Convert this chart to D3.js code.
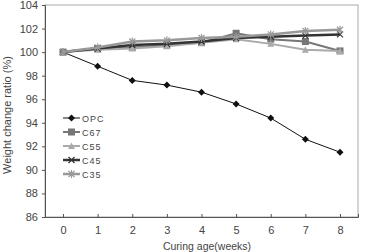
<!DOCTYPE html>
<html>
<head>
<meta charset="utf-8">
<script src="https://cdn.jsdelivr.net/npm/d3@7"></script>
<style>
  body { margin: 0; background: #fff; }
  text { font-family: "Liberation Sans", Arial, sans-serif; fill: #444; }
</style>
</head>
<body>
<svg id="chart" width="366" height="252"></svg>
<script>
  // DATA
  const weeks = [0, 1, 2, 3, 4, 5, 6, 7, 8];
  const opc = [100, 98.8, 97.6, 97.2, 96.6, 95.6, 94.4, 92.6, 91.5];
  const c67 = [100, 100.3, 100.4, 100.6, 100.8, 101.6, 101.1, 100.9, 100.1];
  const c55 = [100, 100.2, 100.3, 100.5, 100.8, 101.1, 100.7, 100.2, 100.1];
  const c45 = [100, 100.3, 100.6, 100.7, 100.9, 101.2, 101.3, 101.4, 101.5];
  const c35 = [100, 100.4, 100.9, 101.0, 101.2, 101.3, 101.5, 101.8, 101.9];
  const yTicks = [86, 88, 90, 92, 94, 96, 98, 100, 102, 104];

  const series = [
    { name: 'OPC', values: opc, color: '#111', width: 1, marker: 'diamond' },
    { name: 'C67', values: c67, color: '#777', width: 2, marker: 'square' },
    { name: 'C55', values: c55, color: '#aaa', width: 2, marker: 'triangle' },
    { name: 'C45', values: c45, color: '#333', width: 2.5, marker: 'cross' },
    { name: 'C35', values: c35, color: '#999', width: 2.5, marker: 'star' }
  ];

  (function() {
    const svg = d3.select('#chart');
    const left = 45, right = 358, plotTop = 5, bottom = 217;

    const xScale = d3.scaleLinear().domain([-0.52, 8.52]).range([left, right]);
    const yScale = d3.scaleLinear().domain([86, 104]).range([bottom, plotTop]);

    // FRAME
    svg.append('rect').attr('x', left).attr('y', plotTop)
      .attr('width', right - left).attr('height', bottom - plotTop)
      .attr('fill', 'none').attr('stroke', '#aaa').attr('stroke-width', 1);

    // AXES
    const yAxis = svg.append('g').attr('transform', `translate(${left},0)`)
      .call(d3.axisLeft(yScale).tickValues(yTicks).tickSize(3).tickPadding(4));
    const xAxis = svg.append('g').attr('transform', `translate(0,${bottom})`)
      .call(d3.axisBottom(xScale).tickValues(weeks).tickSize(-3).tickPadding(9));
    [xAxis, yAxis].forEach(a => {
      a.select('.domain').attr('stroke', '#555');
      a.selectAll('.tick line').attr('stroke', '#555');
      a.selectAll('text').attr('font-size', 11).attr('fill', '#555')
        .attr('font-family', '"DejaVu Sans", sans-serif').style('font-weight', 200);
    });

    // AXIS TITLES
    svg.append('text').attr('x', 207).attr('y', 250)
      .attr('text-anchor', 'middle').attr('font-size', 10.5).text('Curing age(weeks)');
    svg.append('text').attr('transform', 'translate(11,115) rotate(-90)')
      .attr('text-anchor', 'middle').attr('font-size', 11).text('Weight change ratio (%)');

    function drawMarker(g, type, x, y, color) {
      if (type === 'diamond') {
        g.append('path').attr('d', `M${x},${y - 3.5}L${x + 3.5},${y}L${x},${y + 3.5}L${x - 3.5},${y}Z`).attr('fill', color);
      } else if (type === 'square') {
        g.append('rect').attr('x', x - 3.5).attr('y', y - 3.5).attr('width', 7).attr('height', 7).attr('fill', color);
      } else if (type === 'triangle') {
        g.append('path').attr('d', `M${x},${y - 3.5}L${x + 3.5},${y + 3}L${x - 3.5},${y + 3}Z`).attr('fill', color);
      } else if (type === 'cross') {
        g.append('path').attr('d', `M${x - 3},${y - 3}L${x + 3},${y + 3}M${x - 3},${y + 3}L${x + 3},${y - 3}`)
          .attr('stroke', color).attr('stroke-width', 1.2);
      } else {
        g.append('path').attr('d', `M${x - 3},${y - 3}L${x + 3},${y + 3}M${x - 3},${y + 3}L${x + 3},${y - 3}M${x},${y - 4}L${x},${y + 4}`)
          .attr('stroke', color).attr('stroke-width', 1.2);
      }
    }

    // LINES
    const line = d3.line().x((d, i) => xScale(weeks[i])).y(d => yScale(d));
    series.forEach(s => {
      const g = svg.append('g');
      g.append('path').attr('d', line(s.values)).attr('fill', 'none')
        .attr('stroke', s.color).attr('stroke-width', s.width);
      s.values.forEach((v, i) => drawMarker(g, s.marker, xScale(weeks[i]), yScale(v), s.color));
    });

    // LEGEND
    const legend = svg.append('g');
    series.forEach((s, i) => {
      const y = 118 + i * 14;
      legend.append('line').attr('x1', 63).attr('x2', 80).attr('y1', y).attr('y2', y)
        .attr('stroke', s.color).attr('stroke-width', s.width);
      drawMarker(legend, s.marker, 71.5, y, s.color);
      legend.append('text').attr('x', 82).attr('y', y + 3.5).attr('font-size', 9)
        .attr('letter-spacing', 1).text(s.name);
    });
  })();
</script>
</body>
</html>
